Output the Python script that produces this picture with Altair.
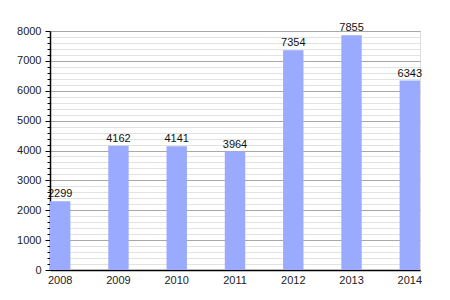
import altair as alt
import pandas as pd

years = ["2008", "2009", "2010", "2011", "2012", "2013", "2014"]
values = [2299, 4162, 4141, 3964, 7354, 7855, 6343]

df = pd.DataFrame({"year": years, "value": values})

FONT = "Liberation Sans"

x = alt.X("year:N", title=None,
          scale=alt.Scale(paddingInner=0.65, paddingOuter=0),
          axis=alt.Axis(labelAngle=0, ticks=False, domainColor="#000", domainWidth=1.5,
                        labelFont=FONT, labelFontSize=11, labelColor="#222", labelPadding=4))
y = alt.Y("value:Q", title=None,
          scale=alt.Scale(domain=[0, 8000], nice=False),
          axis=alt.Axis(values=list(range(0, 8001, 200)), format="d",
                        labelExpr="datum.value % 1000 === 0 ? datum.label : ''",
                        labelOverlap=False,
                        grid=True,
                        gridColor={"condition": {"test": "datum.value % 1000 === 0", "value": "#a8a8a8"}, "value": "#e2e2e2"},
                        tickSize={"condition": {"test": "datum.value % 1000 === 0", "value": 5}, "value": 3},
                        tickColor="#000",
                        domainColor="#000", domainWidth=1.5,
                        labelFont=FONT, labelFontSize=11, labelColor="#222", labelPadding=4))

bars = alt.Chart(df).mark_bar(color="#99aaff").encode(x=x, y=y)
labels = alt.Chart(df).mark_text(baseline="bottom", dy=-2, font=FONT, fontSize=11, color="#111").encode(
    x=x, y=y, text="value:Q")

chart = (bars + labels).properties(
    width=370, height=239,
    autosize=alt.AutoSizeParams(type="none"),
    padding={"left": 50, "top": 31, "right": 30, "bottom": 30},
).configure_view(stroke=None).configure(background="white")

chart.save("out.html", embed_options={"renderer": "svg", "actions": False})
